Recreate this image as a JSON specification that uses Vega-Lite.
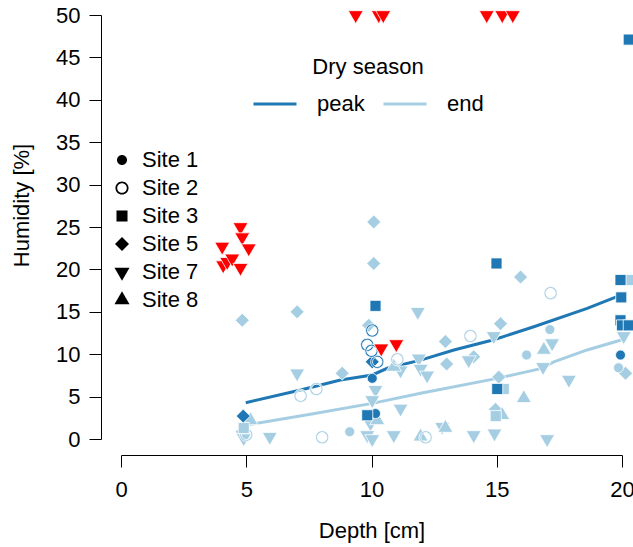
{
  "$schema": "https://vega.github.io/schema/vega-lite/v6.json",
  "width": 501,
  "height": 424,
  "autosize": {"type": "none"},
  "padding": {"left": 121, "top": 15, "right": 11, "bottom": 108},
  "background": "white",
  "config": {
    "view": {"stroke": null},
    "font": "Liberation Sans",
    "axis": {
      "grid": false, "domainColor": "black", "tickColor": "black", "labelColor": "black", "titleColor": "black",
      "labelFont": "Liberation Sans", "titleFont": "Liberation Sans", "labelFontSize": 22, "titleFontSize": 22,
      "titleFontWeight": "normal", "tickSize": 12, "domainWidth": 1, "tickWidth": 1
    },
    "legend": {"labelFont": "Liberation Sans", "titleFont": "Liberation Sans", "labelColor": "black", "titleColor": "black"}
  },
  "datasets": {
    "pts": [
      {"depth": 10.09, "humidity": 25.6, "site": "Site 5", "group": "end"},
      {"depth": 10.09, "humidity": 20.7, "site": "Site 5", "group": "end"},
      {"depth": 7.03, "humidity": 15.0, "site": "Site 5", "group": "end"},
      {"depth": 4.84, "humidity": 14.0, "site": "Site 5", "group": "end"},
      {"depth": 9.89, "humidity": 13.4, "site": "Site 5", "group": "end"},
      {"depth": 8.83, "humidity": 7.75, "site": "Site 5", "group": "end"},
      {"depth": 12.95, "humidity": 11.5, "site": "Site 5", "group": "end"},
      {"depth": 15.15, "humidity": 13.6, "site": "Site 5", "group": "end"},
      {"depth": 13.0, "humidity": 8.85, "site": "Site 5", "group": "end"},
      {"depth": 14.08, "humidity": 9.7, "site": "Site 5", "group": "end"},
      {"depth": 15.95, "humidity": 19.1, "site": "Site 5", "group": "end"},
      {"depth": 15.08, "humidity": 7.3, "site": "Site 5", "group": "end"},
      {"depth": 14.95, "humidity": 3.5, "site": "Site 5", "group": "end"},
      {"depth": 4.84, "humidity": 0.86, "site": "Site 5", "group": "end"},
      {"depth": 20.14, "humidity": 7.75, "site": "Site 5", "group": "end"},
      {"depth": 7.03, "humidity": 7.75, "site": "Site 7", "group": "end"},
      {"depth": 5.94, "humidity": 0.27, "site": "Site 7", "group": "end"},
      {"depth": 4.9, "humidity": 0.1, "site": "Site 7", "group": "end"},
      {"depth": 11.85, "humidity": 15.0, "site": "Site 7", "group": "end"},
      {"depth": 11.16, "humidity": 8.1, "site": "Site 7", "group": "end"},
      {"depth": 11.89, "humidity": 9.5, "site": "Site 7", "group": "end"},
      {"depth": 11.96, "humidity": 8.3, "site": "Site 7", "group": "end"},
      {"depth": 12.22, "humidity": 7.5, "site": "Site 7", "group": "end"},
      {"depth": 10.16, "humidity": 5.8, "site": "Site 7", "group": "end"},
      {"depth": 10.03, "humidity": 4.6, "site": "Site 7", "group": "end"},
      {"depth": 11.16, "humidity": 3.6, "site": "Site 7", "group": "end"},
      {"depth": 9.96, "humidity": 1.85, "site": "Site 7", "group": "end"},
      {"depth": 9.83, "humidity": 0.47, "site": "Site 7", "group": "end"},
      {"depth": 10.03, "humidity": 0.0, "site": "Site 7", "group": "end"},
      {"depth": 10.89, "humidity": 0.47, "site": "Site 7", "group": "end"},
      {"depth": 12.82, "humidity": 1.45, "site": "Site 7", "group": "end"},
      {"depth": 14.88, "humidity": 12.15, "site": "Site 7", "group": "end"},
      {"depth": 13.88, "humidity": 9.3, "site": "Site 7", "group": "end"},
      {"depth": 17.21, "humidity": 11.3, "site": "Site 7", "group": "end"},
      {"depth": 16.85, "humidity": 8.5, "site": "Site 7", "group": "end"},
      {"depth": 14.08, "humidity": 0.47, "site": "Site 7", "group": "end"},
      {"depth": 14.91, "humidity": 0.67, "site": "Site 7", "group": "end"},
      {"depth": 17.01, "humidity": 0.0, "site": "Site 7", "group": "end"},
      {"depth": 17.88, "humidity": 7.0, "site": "Site 7", "group": "end"},
      {"depth": 20.07, "humidity": 12.15, "site": "Site 7", "group": "end"},
      {"depth": 5.17, "humidity": 2.2, "site": "Site 8", "group": "end"},
      {"depth": 10.23, "humidity": 2.2, "site": "Site 8", "group": "end"},
      {"depth": 11.96, "humidity": 0.27, "site": "Site 8", "group": "end"},
      {"depth": 10.89, "humidity": 8.5, "site": "Site 8", "group": "end"},
      {"depth": 16.88, "humidity": 10.5, "site": "Site 8", "group": "end"},
      {"depth": 16.08, "humidity": 4.8, "site": "Site 8", "group": "end"},
      {"depth": 15.22, "humidity": 2.8, "site": "Site 8", "group": "end"},
      {"depth": 12.95, "humidity": 1.3, "site": "Site 8", "group": "end"},
      {"depth": 9.13, "humidity": 0.86, "site": "Site 1", "group": "end"},
      {"depth": 16.19, "humidity": 9.9, "site": "Site 1", "group": "end"},
      {"depth": 17.12, "humidity": 12.9, "site": "Site 1", "group": "end"},
      {"depth": 19.86, "humidity": 8.4, "site": "Site 1", "group": "end"},
      {"depth": 7.17, "humidity": 5.1, "site": "Site 2", "group": "end"},
      {"depth": 7.8, "humidity": 5.9, "site": "Site 2", "group": "end"},
      {"depth": 8.03, "humidity": 0.2, "site": "Site 2", "group": "end"},
      {"depth": 11.03, "humidity": 9.4, "site": "Site 2", "group": "end"},
      {"depth": 12.16, "humidity": 0.2, "site": "Site 2", "group": "end"},
      {"depth": 13.95, "humidity": 12.15, "site": "Site 2", "group": "end"},
      {"depth": 17.15, "humidity": 17.2, "site": "Site 2", "group": "end"},
      {"depth": 5.0, "humidity": 0.5, "site": "Site 2", "group": "end"},
      {"depth": 15.28, "humidity": 5.9, "site": "Site 3", "group": "end"},
      {"depth": 14.96, "humidity": 2.7, "site": "Site 3", "group": "end"},
      {"depth": 20.27, "humidity": 18.75, "site": "Site 3", "group": "end"},
      {"depth": 4.9, "humidity": 1.3, "site": "Site 3", "group": "end"},
      {"depth": 4.88, "humidity": 2.7, "site": "Site 5", "group": "peak"},
      {"depth": 10.03, "humidity": 9.1, "site": "Site 5", "group": "peak"},
      {"depth": 10.03, "humidity": 7.15, "site": "Site 1", "group": "peak"},
      {"depth": 10.16, "humidity": 3.0, "site": "Site 1", "group": "peak"},
      {"depth": 19.94, "humidity": 9.9, "site": "Site 1", "group": "peak"},
      {"depth": 10.03, "humidity": 12.8, "site": "Site 2", "group": "peak"},
      {"depth": 9.83, "humidity": 11.1, "site": "Site 2", "group": "peak"},
      {"depth": 10.23, "humidity": 9.1, "site": "Site 2", "group": "peak"},
      {"depth": 10.0, "humidity": 10.4, "site": "Site 2", "group": "peak"},
      {"depth": 10.16, "humidity": 15.7, "site": "Site 3", "group": "peak"},
      {"depth": 9.83, "humidity": 2.8, "site": "Site 3", "group": "peak"},
      {"depth": 14.99, "humidity": 20.7, "site": "Site 3", "group": "peak"},
      {"depth": 15.02, "humidity": 5.9, "site": "Site 3", "group": "peak"},
      {"depth": 19.94, "humidity": 18.75, "site": "Site 3", "group": "peak"},
      {"depth": 19.97, "humidity": 16.7, "site": "Site 3", "group": "peak"},
      {"depth": 19.94, "humidity": 14.0, "site": "Site 3", "group": "peak"},
      {"depth": 20.0, "humidity": 13.4, "site": "Site 3", "group": "peak"},
      {"depth": 20.27, "humidity": 13.4, "site": "Site 3", "group": "peak"},
      {"depth": 20.27, "humidity": 47.1, "site": "Site 3", "group": "peak"},
      {"depth": 9.37, "humidity": 50, "site": "Site 7", "group": "excluded"},
      {"depth": 10.29, "humidity": 50, "site": "Site 7", "group": "excluded"},
      {"depth": 10.47, "humidity": 50, "site": "Site 7", "group": "excluded"},
      {"depth": 14.6, "humidity": 50, "site": "Site 7", "group": "excluded"},
      {"depth": 15.22, "humidity": 50, "site": "Site 7", "group": "excluded"},
      {"depth": 15.64, "humidity": 50, "site": "Site 7", "group": "excluded"},
      {"depth": 4.77, "humidity": 25.0, "site": "Site 7", "group": "excluded"},
      {"depth": 4.84, "humidity": 23.8, "site": "Site 7", "group": "excluded"},
      {"depth": 5.1, "humidity": 22.5, "site": "Site 7", "group": "excluded"},
      {"depth": 4.04, "humidity": 22.7, "site": "Site 7", "group": "excluded"},
      {"depth": 4.08, "humidity": 20.5, "site": "Site 7", "group": "excluded"},
      {"depth": 4.24, "humidity": 20.9, "site": "Site 7", "group": "excluded"},
      {"depth": 4.44, "humidity": 21.3, "site": "Site 7", "group": "excluded"},
      {"depth": 4.77, "humidity": 20.2, "site": "Site 7", "group": "excluded"},
      {"depth": 10.39, "humidity": 10.7, "site": "Site 7", "group": "excluded"},
      {"depth": 10.99, "humidity": 11.2, "site": "Site 7", "group": "excluded"}
    ],
    "fits": [
      {"depth": 4.98, "humidity": 4.28, "season": "peak"},
      {"depth": 7.17, "humidity": 5.78, "season": "peak"},
      {"depth": 8.76, "humidity": 6.96, "season": "peak"},
      {"depth": 10.03, "humidity": 7.55, "season": "peak"},
      {"depth": 10.63, "humidity": 8.34, "season": "peak"},
      {"depth": 11.96, "humidity": 9.3, "season": "peak"},
      {"depth": 13.29, "humidity": 10.5, "season": "peak"},
      {"depth": 14.88, "humidity": 11.7, "season": "peak"},
      {"depth": 16.48, "humidity": 13.24, "season": "peak"},
      {"depth": 18.61, "humidity": 15.4, "season": "peak"},
      {"depth": 19.8, "humidity": 16.8, "season": "peak"},
      {"depth": 5.1, "humidity": 1.7, "season": "end"},
      {"depth": 7.5, "humidity": 2.9, "season": "end"},
      {"depth": 10.03, "humidity": 4.2, "season": "end"},
      {"depth": 11.96, "humidity": 5.4, "season": "end"},
      {"depth": 15.02, "humidity": 7.15, "season": "end"},
      {"depth": 16.75, "humidity": 8.3, "season": "end"},
      {"depth": 17.28, "humidity": 9.1, "season": "end"},
      {"depth": 18.61, "humidity": 10.5, "season": "end"},
      {"depth": 20.0, "humidity": 11.7, "season": "end"}
    ]
  },
  "encoding": {
    "x": {
      "field": "depth", "type": "quantitative",
      "scale": {"domain": [0, 20], "nice": false, "zero": false},
      "axis": {"title": "Depth [cm]", "values": [0, 5, 10, 15, 20], "offset": 16, "labelFlush": false, "labelPadding": 12, "titlePadding": 20}
    },
    "y": {
      "field": "humidity", "type": "quantitative",
      "scale": {"domain": [0, 50], "nice": false, "zero": false},
      "axis": {"title": "Humidity [%]", "values": [0, 5, 10, 15, 20, 25, 30, 35, 40, 45, 50], "offset": 20, "labelPadding": 9, "titlePadding": 22, "titleY": 190}
    }
  },
  "layer": [
    {
      "data": {"name": "fits"},
      "mark": {"type": "line", "strokeWidth": 3, "clip": false},
      "encoding": {
        "stroke": {
          "field": "season", "type": "nominal",
          "scale": {"domain": ["peak", "end"], "range": ["#1f78b4", "#a6cee3"]},
          "legend": {
            "title": "Dry season", "orient": "none", "direction": "horizontal", "legendX": 131, "legendY": 42,
            "titleAnchor": "middle", "titleFontSize": 22, "titleFontWeight": "normal", "titlePadding": 2,
            "labelFontSize": 22, "symbolType": "stroke", "symbolSize": 1849, "symbolStrokeWidth": 3,
            "labelOffset": 19, "columnPadding": 12
          }
        }
      }
    },
    {
      "data": {"name": "pts"},
      "mark": {"type": "point", "filled": true, "opacity": 1, "stroke": "white", "strokeWidth": 0.8, "size": 256, "clip": false},
      "encoding": {
        "fill": {
          "field": "group", "type": "nominal",
          "scale": {"domain": ["peak", "end", "excluded"], "range": ["#1f78b4", "#a6cee3", "#ff0000"]},
          "legend": null
        },
        "shape": {
          "field": "site", "type": "nominal",
          "scale": {
            "domain": ["Site 1", "Site 2", "Site 3", "Site 5", "Site 7", "Site 8"],
            "range": [
              "M0.625,0A0.625,0.625,0,1,1,-0.625,0A0.625,0.625,0,1,1,0.625,0Z",
              "M0.82,0A0.82,0.82,0,1,1,-0.82,0A0.82,0.82,0,1,1,0.82,0ZM0.6,0A0.6,0.6,0,1,0,-0.6,0A0.6,0.6,0,1,0,0.6,0Z",
              "M-0.69,-0.69L0.69,-0.69L0.69,0.69L-0.69,0.69Z",
              "M0,-0.875L0.875,0L0,0.875L-0.875,0Z",
              "M-0.94,-0.54L0.94,-0.54L0,1.08Z",
              "M-0.94,0.54L0.94,0.54L0,-1.08Z"
            ]
          },
          "legend": {
            "title": null, "orient": "none", "legendX": -10, "legendY": 134,
            "labelFontSize": 22, "symbolSize": 256, "symbolFillColor": "black", "symbolStrokeColor": "black",
            "symbolStrokeWidth": 0, "labelOffset": 9, "rowPadding": 6
          }
        }
      }
    }
  ]
}
